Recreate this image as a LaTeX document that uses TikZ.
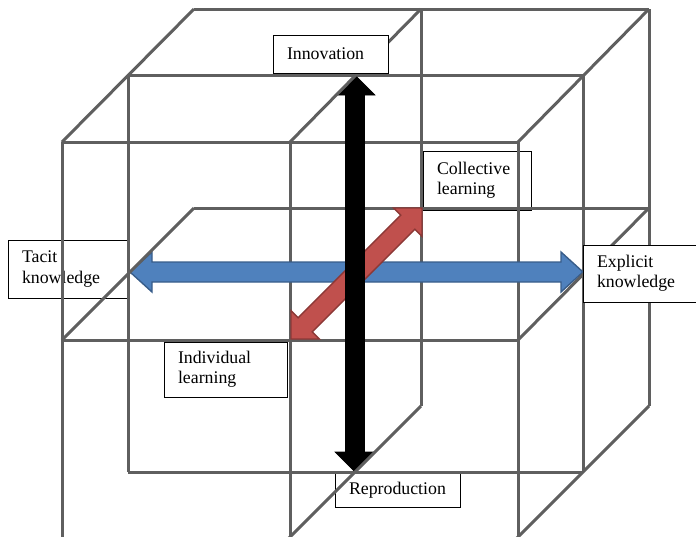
\documentclass[tikz,border=0pt]{standalone}
\usepackage{fontspec}
\setmainfont{Liberation Serif}
\usetikzlibrary{calc}
\definecolor{gridgray}{RGB}{95,95,95}
\definecolor{ablue}{RGB}{79,129,189}
\definecolor{abluedark}{RGB}{56,93,138}
\definecolor{ared}{RGB}{192,80,77}
\definecolor{areddark}{RGB}{140,56,54}
\newcommand\lblfont{\fontsize{17.8pt}{20.4pt}\selectfont}
% #1 style, #2 start, #3 end, #4 shaft half width, #5 head half width, #6 head length
\newcommand\dblarrow[6]{%
  \path ($(#2)!#6!(#3)$) coordinate (tmpA) ($(#3)!#6!(#2)$) coordinate (tmpB);
  \filldraw[#1] (#2) -- ($(tmpA)!#5!90:(#3)$) -- ($(tmpA)!#4!90:(#3)$)
    -- ($(tmpB)!#4!-90:(#2)$) -- ($(tmpB)!#5!-90:(#2)$) -- (#3)
    -- ($(tmpB)!#5!90:(#2)$) -- ($(tmpB)!#4!90:(#2)$)
    -- ($(tmpA)!#4!-90:(#3)$) -- ($(tmpA)!#5!-90:(#3)$) -- cycle;}
\tikzset{
  gridline/.style={draw=gridgray, line width=3pt},
  lbl/.style={draw=black, line width=0.9pt, fill=white, inner xsep=14pt,
    inner ysep=0pt, outer sep=0pt, align=left, anchor=north west, font=\lblfont},
  bluearrow/.style={fill=ablue, draw=abluedark, line width=1.4pt, line join=miter},
  redarrow/.style={fill=ared, draw=areddark, line width=1.4pt, line join=miter},
  blackarrow/.style={fill=black, draw=black, line width=0.6pt, line join=miter}
}
\hyphenpenalty=10000
\begin{document}
\begin{tikzpicture}[x=1pt, y=-1pt]
\useasboundingbox (0,0) rectangle (696,536);
\clip (0,0) rectangle (696,536);
% labels lying beneath the grid lines
\node[lbl, text width=92pt, minimum height=58pt] (tacit) at (8,240) {Tacit\\knowledge};
\node[lbl, text width=80pt, minimum height=59pt] (collective) at (423,151) {Collective\\learning};
\node[lbl, text width=95pt, minimum height=55pt] (individual) at (164,342) {Individual\\learning};
\node[lbl, text width=97pt, minimum height=34pt] (reproduction) at (335,473) {Reproduction};
% horizontal edges
\draw[gridline] (194,9) -- (649,9);
\draw[gridline] (128,75) -- (583,75);
\draw[gridline] (62,142) -- (518,142);
\draw[gridline] (194,208) -- (649,208);
\draw[gridline] (62,340) -- (518,340);
\draw[gridline] (128,472) -- (583,472);
% vertical edges
\draw[gridline] (62,142) -- (62,545);
\draw[gridline] (128,75) -- (128,472);
\draw[gridline] (290,142) -- (290,545);
\draw[gridline] (421,9) -- (421,406);
\draw[gridline] (518,142) -- (518,545);
\draw[gridline] (583,75) -- (583,472);
\draw[gridline] (649,9) -- (649,406);
% arrows
\coordinate (tacitEnd) at (130,272);
\coordinate (explicitEnd) at (583,272);
\coordinate (indEnd) at (291,339);
\coordinate (colEnd) at (422,208);
\coordinate (innovEnd) at (355,75);
\coordinate (reproEnd) at (355,472);
\dblarrow{bluearrow}{tacitEnd}{explicitEnd}{10pt}{20pt}{22pt}
\dblarrow{redarrow}{indEnd}{colEnd}{10pt}{20pt}{20pt}
\dblarrow{blackarrow}{innovEnd}{reproEnd}{9.5pt}{20pt}{20pt}
% depth edges
\draw[gridline] (62,142) -- (194,9);
\draw[gridline] (290,142) -- (421,9);
\draw[gridline] (518,142) -- (649,9);
\draw[gridline] (62,340) -- (194,208);
\draw[gridline] (518,340) -- (649,208);
\draw[gridline] (282,545) -- (421,406);
\draw[gridline] (510,545) -- (649,406);
% labels lying above the grid lines
\node[lbl, text width=87pt, minimum height=38pt] (innovation) at (273,35) {Innovation};
\node[lbl, text width=89pt, minimum height=57pt] (explicit) at (583,245) {Explicit\\knowledge};
\end{tikzpicture}
\end{document}
